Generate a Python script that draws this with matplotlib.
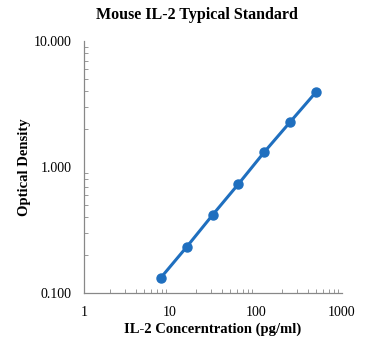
import matplotlib
matplotlib.use("Agg")
import matplotlib.pyplot as plt
from matplotlib.ticker import FixedLocator, LogLocator, NullFormatter

# standard curve data
conc = [7.8125, 15.625, 31.25, 62.5, 125, 250, 500]
od = [0.132, 0.232, 0.416, 0.733, 1.315, 2.28, 3.94]

x_ticks = [1, 10, 100, 1000]
x_labels = ["1", "10", "100", "1000"]
y_ticks = [0.1, 1, 10]
y_labels = ["0.100", "1.000", "10.000"]

plt.rcParams['font.family'] = ['Liberation Serif', 'DejaVu Serif']

fig = plt.figure(figsize=(3.7, 3.5), dpi=100)
ax = fig.add_axes([84/370, 57/350, 258/370, 252/350])

ax.plot(conc, od, color="#1f6fbf", lw=2.2, marker="o", ms=6.5)

ax.set_xscale("log")
ax.set_yscale("log")
ax.set_xlim(1, 1000)
ax.set_ylim(0.1, 10)

ax.xaxis.set_major_locator(FixedLocator(x_ticks))
ax.set_xticklabels(x_labels)
ax.yaxis.set_major_locator(FixedLocator(y_ticks))
ax.set_yticklabels(y_labels)
ax.xaxis.set_minor_locator(LogLocator(base=10, subs=range(2, 10)))
ax.yaxis.set_minor_locator(LogLocator(base=10, subs=range(2, 10)))
ax.xaxis.set_minor_formatter(NullFormatter())
ax.yaxis.set_minor_formatter(NullFormatter())

for s in ["top", "right"]:
    ax.spines[s].set_visible(False)
for s in ["left", "bottom"]:
    ax.spines[s].set_color("#888888")
    ax.spines[s].set_linewidth(0.9)

ax.tick_params(which="both", direction="in", color="#888888", labelsize=10)
ax.tick_params(which="major", length=0, pad=9)
ax.tick_params(which="minor", length=3)

fig.suptitle("Mouse IL-2 Typical Standard", x=0.533, y=1 - 15/350, va="center",
             fontsize=11.5, fontweight="bold")
ax.set_xlabel("IL-2 Concerntration (pg/ml)", fontsize=10.5, fontweight="bold", labelpad=3)
ax.set_ylabel("Optical Density", fontsize=10.5, fontweight="bold", labelpad=2)

fig.savefig("out.png", dpi=100)
